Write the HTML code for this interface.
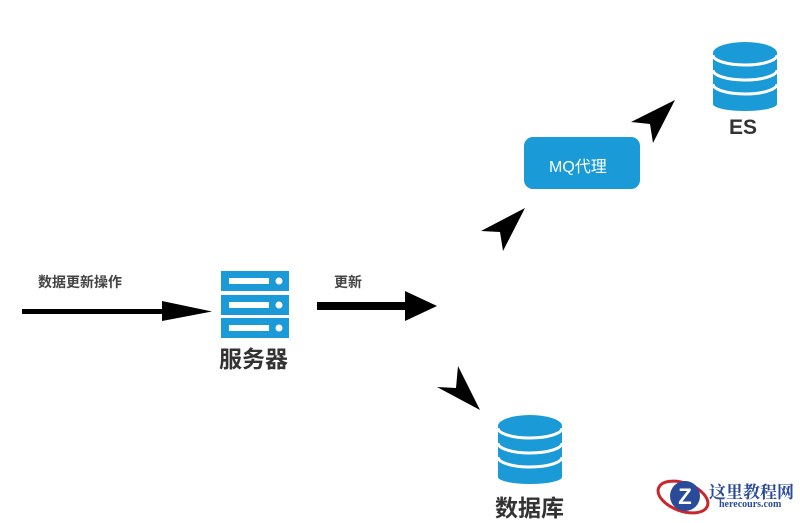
<!DOCTYPE html>
<html><head><meta charset="utf-8"><style>
html,body{margin:0;padding:0;background:#fff;}
body{width:800px;height:518px;position:relative;overflow:hidden;font-family:"Liberation Sans","Noto Sans CJK SC",sans-serif;}
.t{position:absolute;color:#333;white-space:nowrap;}
</style></head><body>
<svg width="800" height="518" style="position:absolute;left:0;top:0">
<defs>
<g id="cyl">
<rect x="0" y="11" width="64" height="51" fill="#1a9ad6"/>
<ellipse cx="32" cy="62" rx="32" ry="7" fill="#1a9ad6"/>
<ellipse cx="32" cy="11" rx="32" ry="11" fill="#1a9ad6"/>
<path d="M0,13 A32,10 0 0 0 64,13" fill="none" stroke="#fff" stroke-width="3"/>
<path d="M0,28 A32,10 0 0 0 64,28" fill="none" stroke="#fff" stroke-width="3"/>
<path d="M0,42 A32,10 0 0 0 64,42" fill="none" stroke="#fff" stroke-width="3"/>
</g>
<g id="srvbar">
<rect x="0" y="0" width="68" height="20" fill="#1a9ad6"/>
<rect x="8" y="7" width="40" height="6" fill="#fff"/>
<circle cx="58" cy="10" r="3.5" fill="#fff"/>
</g>
</defs>
<!-- arrow 1 -->
<rect x="22" y="309" width="145" height="5" fill="#000"/>
<polygon points="162,301 212,311.5 162,321" fill="#000"/>
<!-- arrow 2 -->
<rect x="317" y="302" width="92" height="8" fill="#000"/>
<polygon points="405,291 437,306 405,321" fill="#000"/>
<!-- server -->
<use href="#srvbar" x="221" y="271"/>
<use href="#srvbar" x="221" y="295"/>
<use href="#srvbar" x="221" y="318"/>
<!-- nav arrows -->
<polygon points="481,231 525,208 503,251 500,232" fill="#000"/>
<polygon points="631,122 675,100 653,143 650,124" fill="#000"/>
<polygon points="437,387 480,410 458,366 456,388" fill="#000"/>
<!-- MQ box -->
<rect x="524" y="137" width="116" height="52" rx="9" fill="#1a9ad6"/>
<!-- cylinders -->
<use href="#cyl" x="713" y="42"/>
<use href="#cyl" x="498" y="415"/>
<!-- logo -->
<ellipse cx="683" cy="497" rx="26" ry="14" fill="none" stroke="#c8282d" stroke-width="3" transform="rotate(20 683 497)"/>
<circle cx="685" cy="496" r="15" fill="#2a4a9a"/>
<text x="685" y="504" font-size="22" font-weight="bold" fill="#fff" text-anchor="middle" font-family="Liberation Sans">Z</text>
</svg>
<div class="t" style="left:38px;top:272px;font-size:14px;font-weight:bold;color:#444">数据更新操作</div>
<div class="t" style="left:334px;top:272px;font-size:14px;font-weight:bold;color:#444">更新</div>
<div class="t" style="left:219px;top:340px;font-size:23px;font-weight:bold;color:#333">服务器</div>
<div class="t" style="left:549px;top:153px;font-size:16px;color:#fff">MQ代理</div>
<div class="t" style="left:729px;top:116px;font-size:21px;font-weight:bold;color:#333">ES</div>
<div class="t" style="left:495px;top:489px;font-size:23px;font-weight:bold;color:#333">数据库</div>
<div class="t" style="left:709px;top:478px;font-size:17px;font-weight:bold;color:#2a4a9a;font-family:'Liberation Serif','Noto Serif CJK SC',serif">这里教程网</div>
<div class="t" style="left:719px;top:499px;font-size:10px;font-weight:bold;color:#2a4a9a;font-family:'Liberation Serif',serif">herecours.com</div>
</body></html>
